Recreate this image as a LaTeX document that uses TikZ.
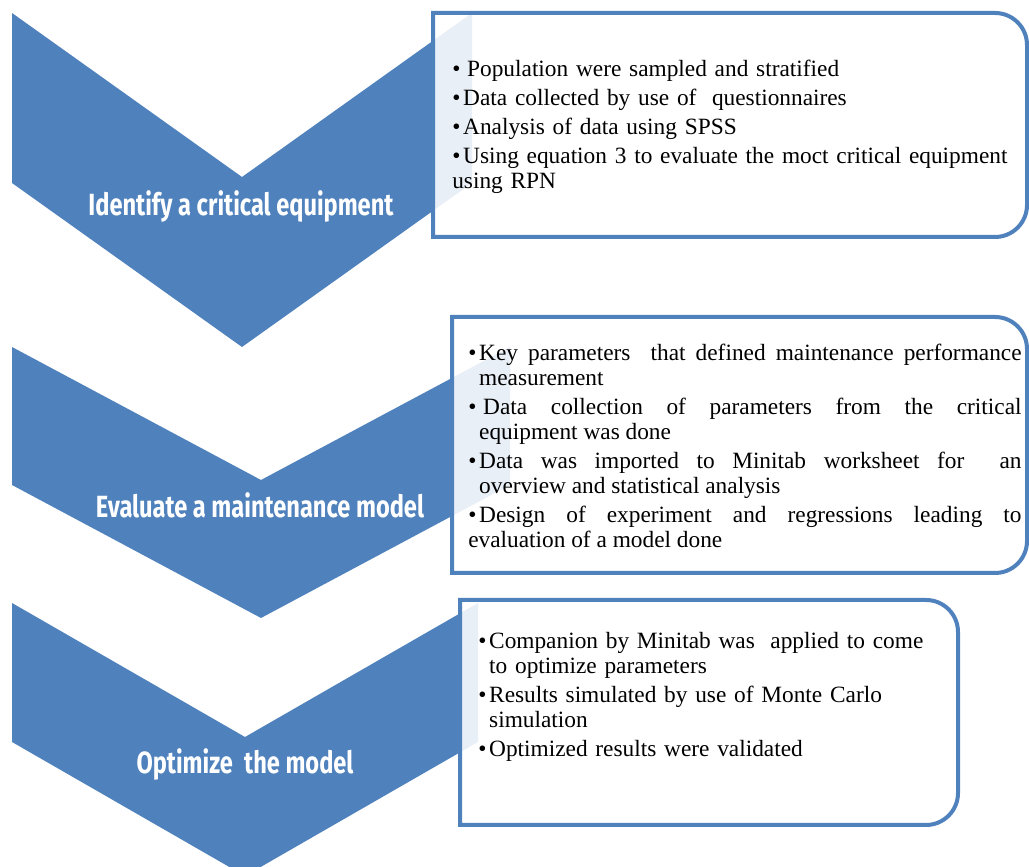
\documentclass[tikz,border=0pt]{standalone}
\usepackage{fontspec}
\setmainfont{Liberation Serif}
\newfontfamily\chevfont[FakeStretch=0.77]{Fira Sans}
\usepackage{tikz}
\usetikzlibrary{positioning}
\definecolor{chevblue}{HTML}{4F81BD}
\newlength\bulwd
\setlength\bulwd{8.2pt}
\newcommand{\bitem}[1]{\par\hangindent=\bulwd\hangafter=1\noindent\makebox[\bulwd][l]{\textbullet}#1}

\begin{document}
\begin{tikzpicture}[x=0.75pt,y=0.75pt,
    chevron/.style={fill=chevblue},
    panel/.style={draw=chevblue,line width=3pt,fill=white,fill opacity=0.88},
    stagelabel/.style={text=white,font=\chevfont\bfseries\fontsize{23}{23}\selectfont},
    itemlist/.style={anchor=north west,inner sep=0pt,
        font=\fontsize{17.5}{18.75}\selectfont\setlength\parskip{3pt}}]

\useasboundingbox (0,0) rectangle (1029,867);
\clip (0,0) rectangle (1029,867);

% Chevrons
\fill[chevron] (12,854) -- (242,690) -- (472,854) -- (472,684) -- (242,520) -- (12,684) -- cycle;
\fill[chevron] (12,520) -- (261,387) -- (510,520) -- (510,382) -- (261,249) -- (12,382) -- cycle;
\fill[chevron] (12,264) -- (245,130) -- (478,264) -- (478,125) -- (245,-9) -- (12,125) -- cycle;

% Panels
\draw[panel] (433,854) -- (995,854) arc[start angle=90,end angle=0,radius=32]
    -- (1027,662) arc[start angle=0,end angle=-90,radius=32] -- (433,630) -- cycle;
\draw[panel] (452,550) -- (995,550) arc[start angle=90,end angle=0,radius=32]
    -- (1027,326) arc[start angle=0,end angle=-90,radius=32] -- (452,294) -- cycle;
\draw[panel] (460,267) -- (926,267) arc[start angle=90,end angle=0,radius=32]
    -- (958,74) arc[start angle=0,end angle=-90,radius=32] -- (460,42) -- cycle;

% Stage labels
\node[stagelabel] (stage1) at (241,661) {Identify a critical equipment};
\node[stagelabel] (stage2) at (260,362) {Evaluate a maintenance model};
\node[stagelabel] (stage3) at (245,103) {Optimize\ \ the model};

% Identify list
\node[itemlist,text width=430pt,align=left] (list1) at (452,820) {%
    \bitem{\hspace{3pt}Population were sampled and stratified}
    \bitem{Data collected by use of\ \ questionnaires}
    \bitem{Analysis of data using SPSS}
    \bitem{Using equation 3 to evaluate the moct critical equipment\newline using RPN}};

% Evaluate list
\node[itemlist,text width=415pt,align=justify] (list2) at (468,536) {%
    \bitem{Key parameters\ \ that defined maintenance performance\linebreak measurement}
    \bitem{\hspace{3pt}Data collection of parameters from the critical\linebreak equipment was done}
    \bitem{Data was imported to Minitab worksheet for\ \ an\linebreak overview and statistical analysis}
    \bitem{Design of experiment and regressions leading to\linebreak evaluation of a model done}};

% Optimize list
\node[itemlist,text width=345pt,align=left] (list3) at (478,248) {%
    \bitem{Companion by Minitab was\ \ applied to come\newline to optimize parameters}
    \bitem{Results simulated by use of Monte Carlo\newline simulation}
    \bitem{Optimized results were validated}};

\end{tikzpicture}
\end{document}
